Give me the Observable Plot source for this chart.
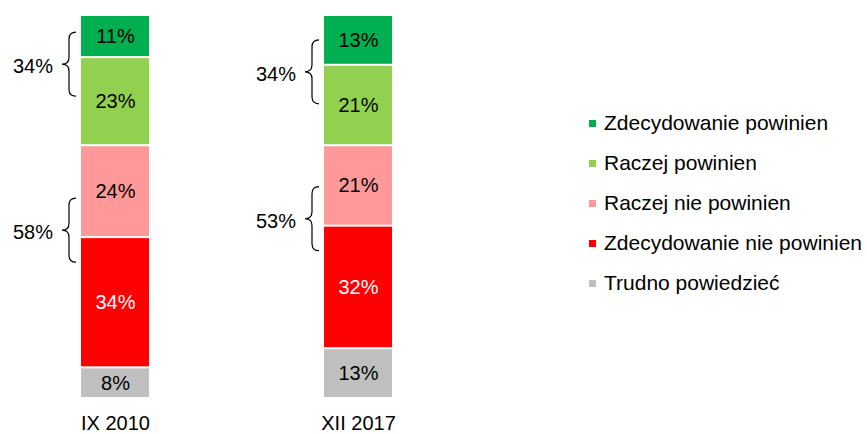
<!DOCTYPE html>
<html><head><meta charset="utf-8">
<script src="https://cdn.jsdelivr.net/npm/d3@7"></script>
<script src="https://cdn.jsdelivr.net/npm/@observablehq/plot@0.6"></script>
<style>
body{margin:0;background:#fff;font-family:"Liberation Sans",Arial,sans-serif;}
#wrap{position:relative;width:867px;height:434px;}
#legend{position:absolute;left:589px;top:103px;}
.row{height:40px;display:flex;align-items:center;font-size:21px;color:#000;white-space:nowrap;}
.sw{width:7px;height:7px;margin-right:8px;flex:none;}
</style></head><body><div id="wrap"><div id="legend"></div></div>
<script>
const categories = ["IX 2010", "XII 2017"];
const seriesNames = ["Zdecydowanie powinien", "Raczej powinien", "Raczej nie powinien", "Zdecydowanie nie powinien", "Trudno powiedzieć"];
const seriesColors = ["#00b050", "#92d050", "#ff9999", "#ff0000", "#bfbfbf"];
const values2010 = [11, 23, 24, 34, 8];
const values2017 = [13, 21, 21, 32, 13];
const braceGroups = [[0, 1], [2, 3]];

const valuesByCat = [values2010, values2017];
const rows = [];
const boundaries = [];
categories.forEach((cat, ci) => {
  const vals = valuesByCat[ci];
  let cum = 0;
  const tops = {};
  for (let si = seriesNames.length - 1; si >= 0; si--) {
    rows.push({cat, series: seriesNames[si], value: vals[si], y1: cum, y2: cum + vals[si], color: seriesColors[si], labelColor: si === 3 ? "white" : "black"});
    cum += vals[si];
    tops[si] = cum;
  }
  braceGroups.forEach(([a, b], gi) => {
    boundaries.push({cat, boundary: tops[b], total: vals[a] + vals[b], gi});
  });
});

function braces(index, scales, values, dims) {
  const g = d3.create("svg:g");
  for (const b of boundaries) {
    const left = scales.x(b.cat);
    const xr = left - 5, xs = left - 12, xt = left - 19;
    const yc = scales.y(b.boundary) + (b.gi === 0 ? 7 : -7);
    const h = 32, r = 7;
    const yt = yc - h, yb = yc + h;
    const p = `M${xr},${yt} Q${xs},${yt} ${xs},${yt + r} L${xs},${yc - r} Q${xs},${yc} ${xt},${yc} Q${xs},${yc} ${xs},${yc + r} L${xs},${yb - r} Q${xs},${yb} ${xr},${yb}`;
    g.append("path").attr("d", p).attr("fill", "none").attr("stroke", "#000").attr("stroke-width", 1.2);
    g.append("text").attr("x", left - 28).attr("y", yc + 4).attr("text-anchor", "end")
      .attr("dominant-baseline", "middle").attr("font-size", 20).attr("fill", "#000").text(b.total + "%");
  }
  return g.node();
}

const chart = Plot.plot({
  width: 867, height: 434, marginTop: 15, marginBottom: 36, marginLeft: 0, marginRight: 0,
  style: {fontFamily: '"Liberation Sans", Arial, sans-serif', fontSize: "20px", background: "transparent"},
  x: {type: "band", domain: categories, range: [81, 392.5], paddingInner: 0.7207, paddingOuter: 0},
  y: {domain: [0, 100], range: [398, 15], axis: null},
  marks: [
    Plot.barY(rows, {x: "cat", y1: "y1", y2: "y2", fill: "color", insetTop: 1, insetBottom: 1}),
    Plot.text(rows, {x: "cat", y: d => (d.y1 + d.y2) / 2, text: d => d.value + "%", fill: "labelColor", fontSize: 20}),
    Plot.axisX({tickSize: 0, tickPadding: 17, fontSize: 20, label: null, fill: "#000"}),
    braces
  ]
});
document.getElementById("wrap").prepend(chart);

const legend = d3.select("#legend");
seriesNames.forEach((name, i) => {
  const row = legend.append("div").attr("class", "row");
  row.append("div").attr("class", "sw").style("background", seriesColors[i]);
  row.append("span").text(name);
});
</script>
</body></html>
